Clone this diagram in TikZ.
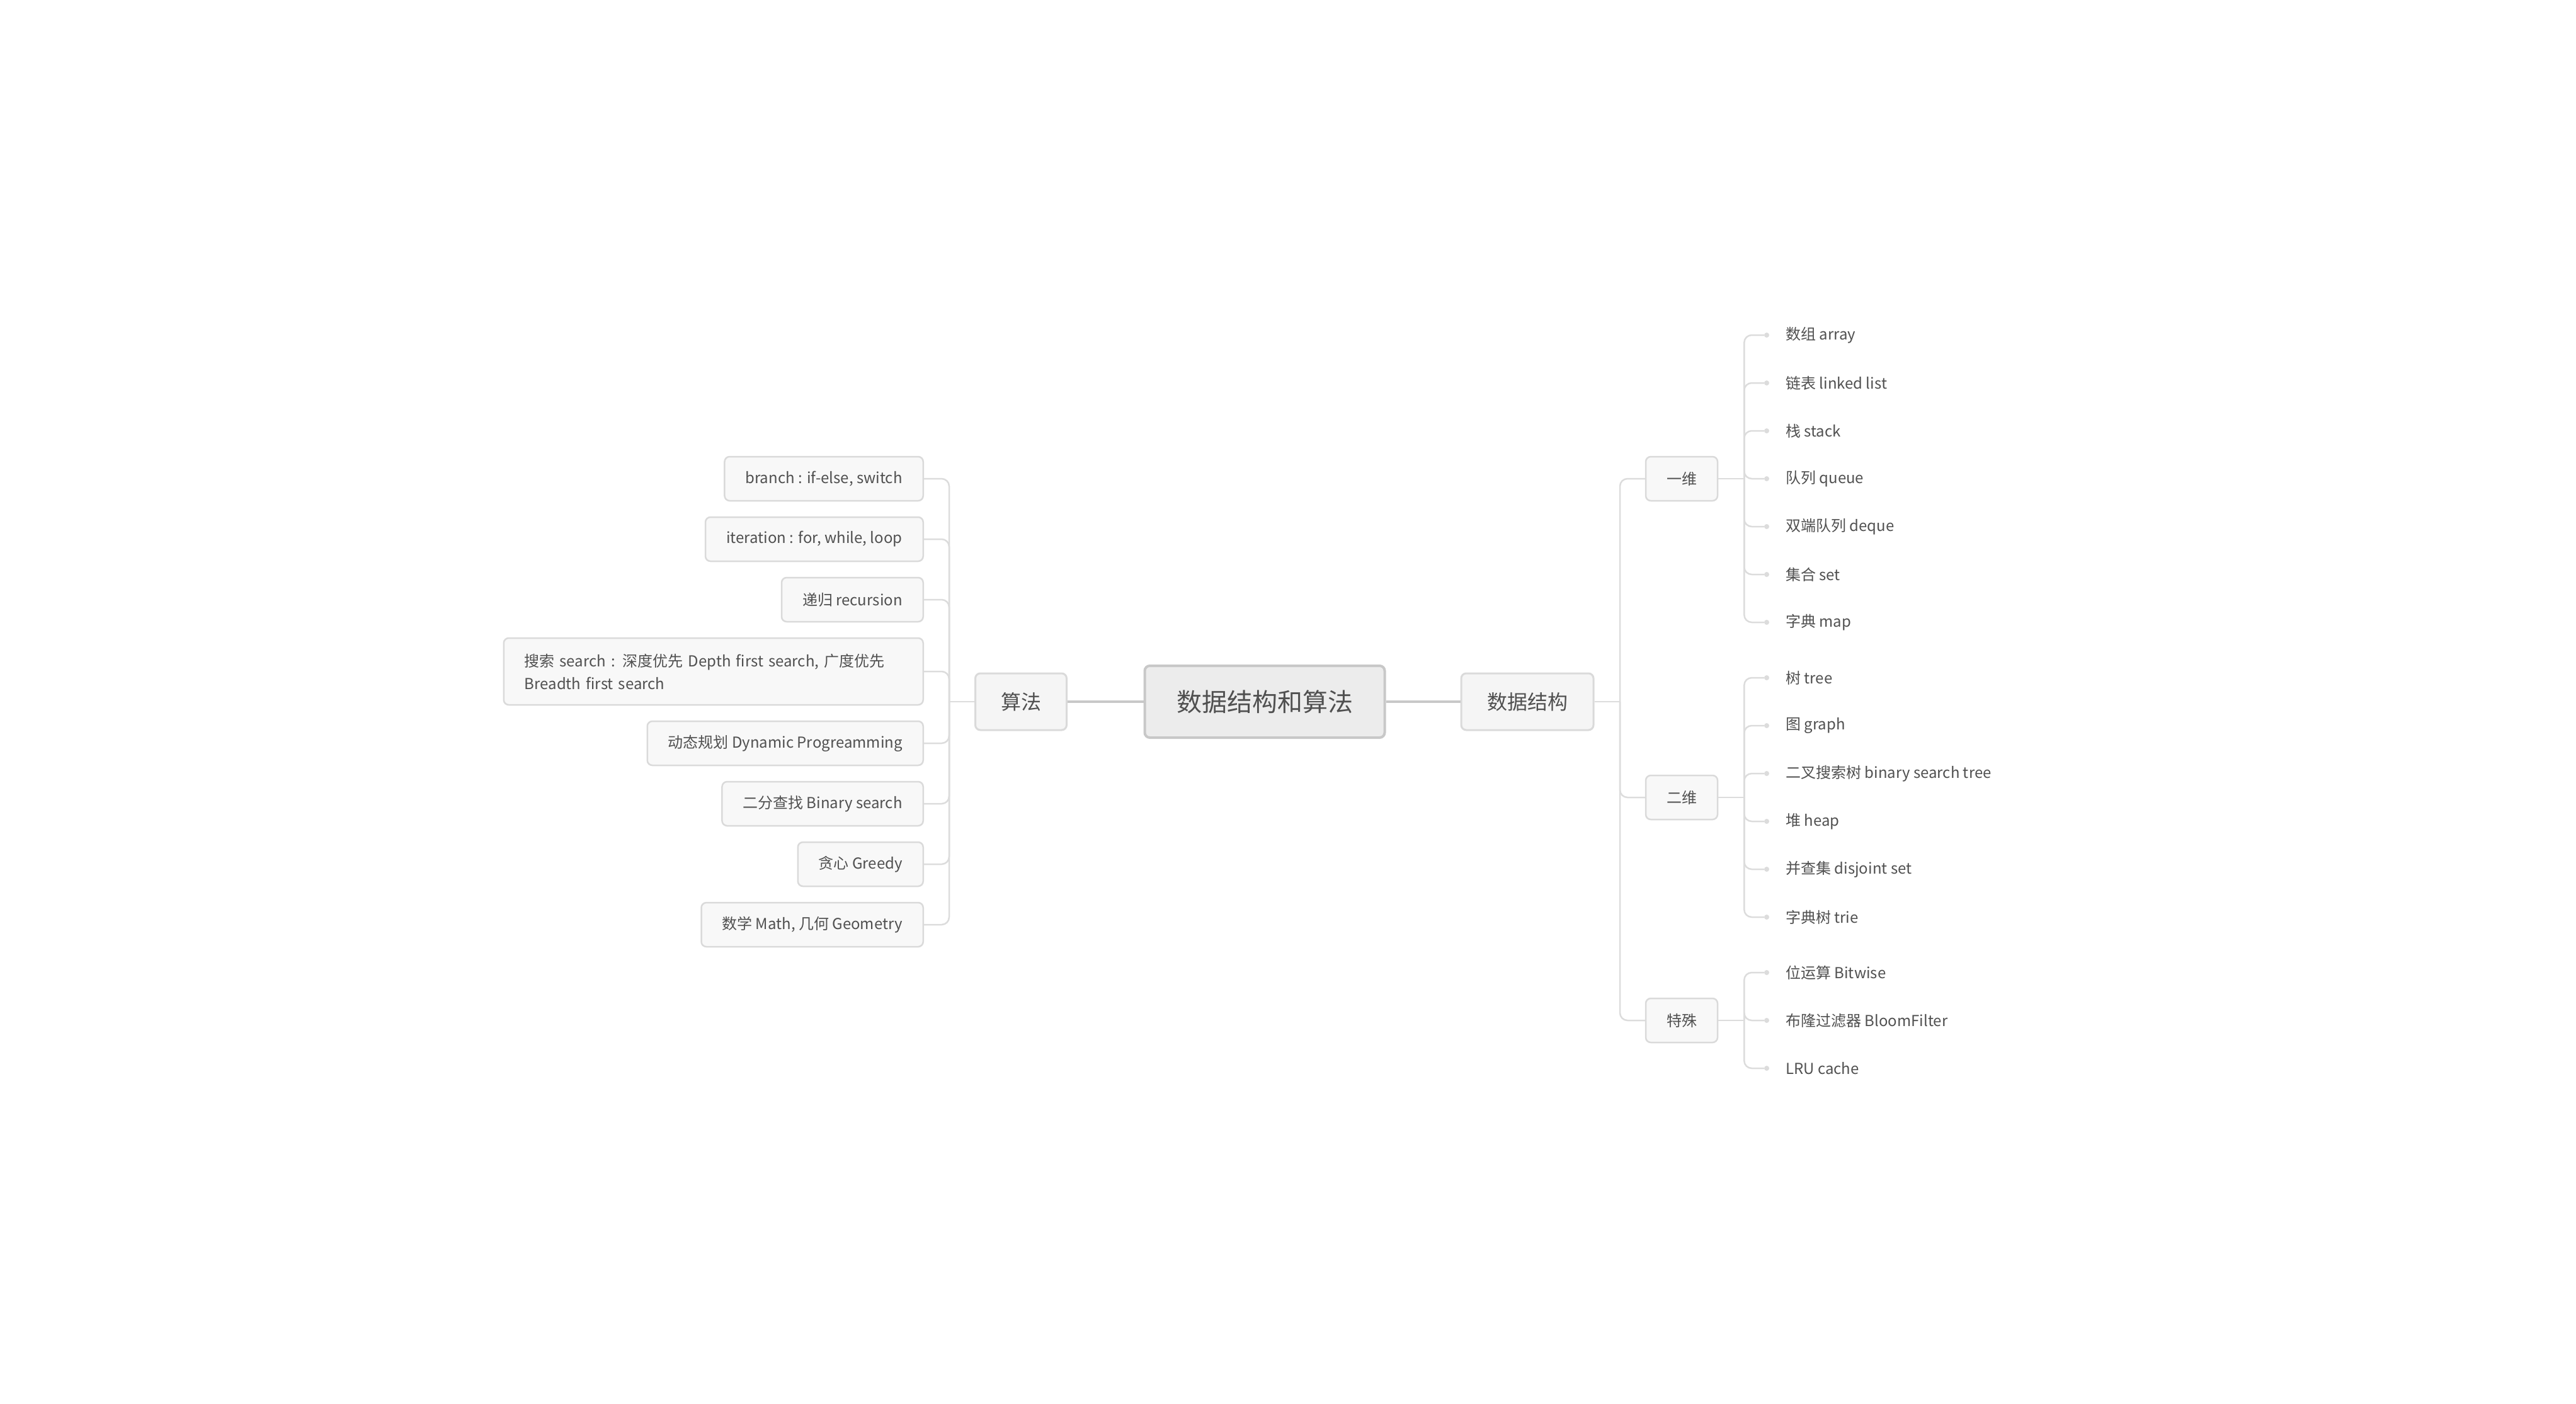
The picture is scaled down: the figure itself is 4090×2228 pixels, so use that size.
\documentclass[tikz,border=0pt]{standalone}
\usepackage{fontspec}
\setmainfont{Noto Sans CJK SC}
\usetikzlibrary{calc}
\definecolor{txtgray}{HTML}{505050}
\definecolor{linkgray}{HTML}{DCDCDC}
\definecolor{rootfill}{HTML}{ECECEC}
\definecolor{rootedge}{HTML}{C8C8C8}
\definecolor{boxfill}{HTML}{F5F5F5}
\definecolor{boxedge}{HTML}{DADADA}
\definecolor{leaffill}{HTML}{F8F8F8}

\tikzset{
  rootbox/.style={draw=rootedge, fill=rootfill, line width=4pt, rounded corners=8pt,
    minimum width=381pt, minimum height=114pt, text=txtgray, font=\fontsize{40}{48}\selectfont},
  mainbox/.style={draw=boxedge, fill=boxfill, line width=3pt, rounded corners=8pt,
    minimum height=90pt, text=txtgray, font=\fontsize{32}{38}\selectfont},
  subbox/.style={draw=boxedge, fill=leaffill, line width=2.5pt, rounded corners=8pt,
    minimum width=114pt, minimum height=70pt, text=txtgray, font=\fontsize{24}{30}\selectfont},
  leafbox/.style={draw=boxedge, fill=leaffill, line width=2.5pt, rounded corners=8pt,
    minimum height=70pt, inner xsep=33pt, text=txtgray, font=\fontsize{24}{36}\selectfont},
  leaftext/.style={inner sep=0pt, anchor=west, text=txtgray, font=\fontsize{24}{30}\selectfont},
  link/.style={draw=linkgray, line width=2.5pt, rounded corners=12pt},
  thicklink/.style={draw=rootedge, line width=4pt},
  dotmark/.style={circle, fill=linkgray, inner sep=0pt, minimum size=8pt}
}

\begin{document}
\begin{tikzpicture}[x=1pt, y=-1pt]
\useasboundingbox (0,0) rectangle (4090,2228);

\node[rootbox] (root) at (2008,1114) {数据结构和算法};
\node[mainbox, minimum width=145pt] (alg) at (1621,1114) {算法};
\node[mainbox, minimum width=210pt] (ds) at (2425,1114) {数据结构};
\draw[thicklink] (root.west) -- (alg.east);
\draw[thicklink] (root.east) -- (ds.west);

% algorithm side
\coordinate (alg-j) at (1507,1114);
\draw[link] (alg.west) -- (alg-j);
\foreach \n/\y/\t in {1/760/{branch : if-else, switch},
                      2/856/{iteration : for, while, loop},
                      3/952/{递归 recursion},
                      5/1180/{动态规划 Dynamic Progreamming},
                      6/1276/{二分查找 Binary search},
                      7/1372/{贪心 Greedy},
                      8/1468/{数学 Math, 几何 Geometry}}
  \node[leafbox, anchor=east] (a\n) at (1467,\y) {\t};
\node[leafbox, anchor=east, text width=600pt, align=left, minimum height=106pt] (a4) at (1467,1066)
  {搜索 search : 深度优先 Depth first search, 广度优先\\Breadth first search};
\foreach \n in {1,...,8} \draw[link] (alg-j) |- (a\n.east);

% data structure side
\coordinate (ds-j) at (2572,1114);
\draw[link] (ds.east) -- (ds-j);
\node[subbox] (one) at (2670,760) {一维};
\node[subbox] (two) at (2670,1266) {二维};
\node[subbox] (spec) at (2670,1620) {特殊};
\foreach \s in {one,two,spec} {
  \draw[link] (ds-j) |- (\s.west);
  \coordinate (\s-j) at ($(\s.east)+(41,0)$);
  \draw[link] (\s.east) -- (\s-j);
}

\foreach \k/\t in {0/{数组 array}, 1/{链表 linked list}, 2/{栈 stack}, 3/{队列 queue},
                   4/{双端队列 deque}, 5/{集合 set}, 6/{字典 map}} {
  \node[leaftext] (one\k) at (2835,532+76*\k) {\t};
  \node[dotmark] (onedot\k) at (2805,532+76*\k) {};
  \draw[link] (one-j) |- (onedot\k);
}
\foreach \k/\t in {0/{树 tree}, 1/{图 graph}, 2/{二叉搜索树 binary search tree},
                   3/{堆 heap}, 4/{并查集 disjoint set}, 5/{字典树 trie}} {
  \node[leaftext] (two\k) at (2835,1076+76*\k) {\t};
  \node[dotmark] (twodot\k) at (2805,1076+76*\k) {};
  \draw[link] (two-j) |- (twodot\k);
}
\foreach \k/\t in {0/{位运算 Bitwise}, 1/{布隆过滤器 BloomFilter}, 2/{LRU cache}} {
  \node[leaftext] (spec\k) at (2835,1544+76*\k) {\t};
  \node[dotmark] (specdot\k) at (2805,1544+76*\k) {};
  \draw[link] (spec-j) |- (specdot\k);
}
\end{tikzpicture}
\end{document}
